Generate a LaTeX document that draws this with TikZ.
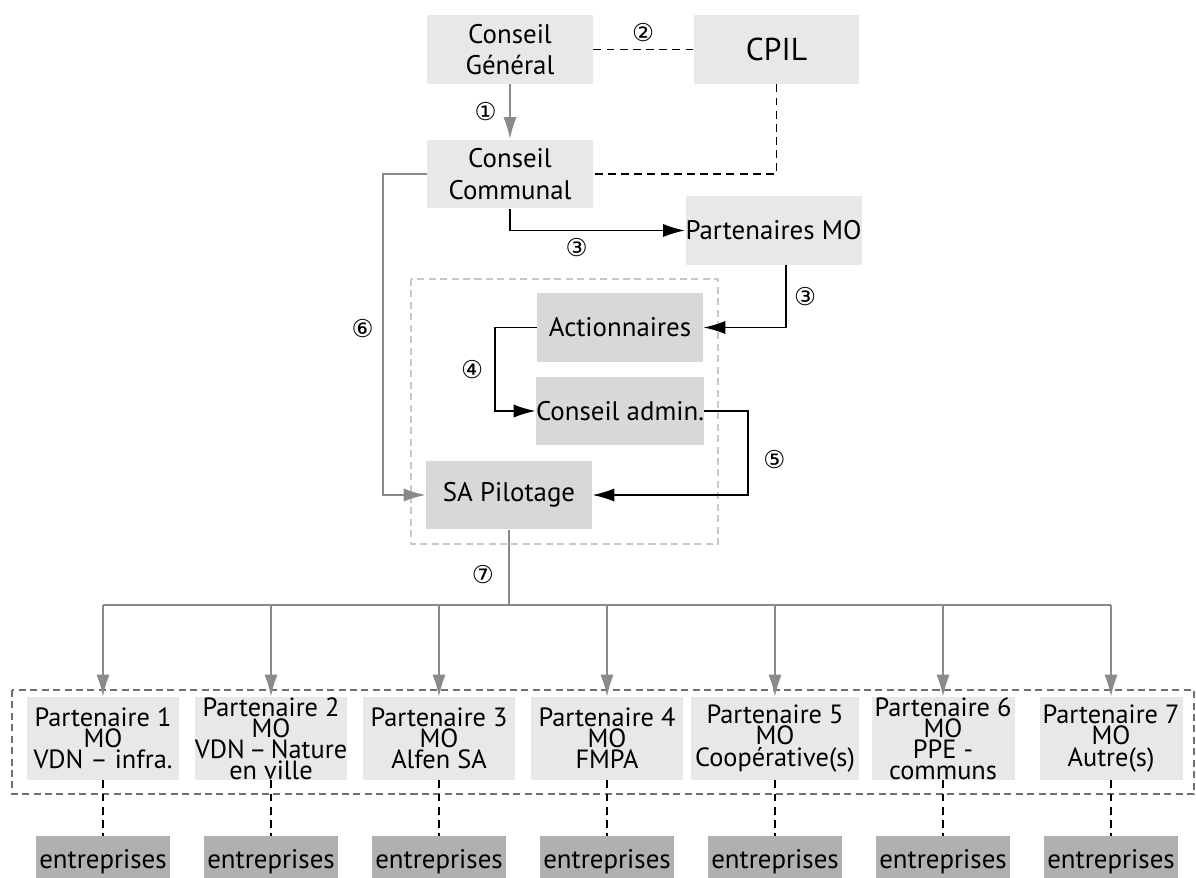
\documentclass[tikz,border=0pt]{standalone}
\usepackage{fontspec}
\setmainfont{PT Sans}
\newfontfamily\circfont{DejaVu Sans}
\usetikzlibrary{arrows.meta, positioning, calc}

\definecolor{boxlight}{HTML}{E8E8E8}
\definecolor{boxmid}{HTML}{D8D8D8}
\definecolor{boxdark}{HTML}{B0B0B0}
\definecolor{linegray}{HTML}{8A8A8A}
\definecolor{framelight}{HTML}{C8C8C8}
\definecolor{framedark}{HTML}{707070}

\begin{document}
\begin{tikzpicture}[x=0.02cm, y=-0.02cm, >=Latex, font=\fontsize{15.3}{18}\selectfont,
  body/.style={fill=boxlight, align=center, minimum width=3.32cm, minimum height=1.38cm, inner sep=0pt},
  core/.style={body, fill=boxmid},
  partner/.style={fill=boxlight, align=center, minimum width=3.06cm, minimum height=1.66cm, inner sep=0pt, font=\fontsize{15}{12}\selectfont},
  firm/.style={fill=boxdark, minimum width=2.68cm, minimum height=1.04cm, inner sep=0pt},
  num/.style={font=\circfont\fontsize{14}{14}\selectfont, inner sep=1pt},
  link/.style={line width=1.1pt, -{Latex[length=12.5pt,width=7.5pt]}},
  glink/.style={link, draw=linegray},
  gline/.style={line width=1.1pt, draw=linegray},
  tie/.style={line width=0.9pt, dash pattern=on 4.5pt off 3pt}]
\useasboundingbox (0,0) rectangle (1196,878);

% upper part
\node[body] (cg) at (510,49.5) {Conseil\\Général};
\node[body, font=\fontsize{18}{20}\selectfont] (cpil) at (776.5,49.5) {CPIL};
\node[body] (cc) at (510,174) {Conseil\\Communal};
\node[body, minimum width=3.46cm] (pmo) at (773.5,230.5) {Partenaires MO};
\node[core] (act) at (620,327.5) {Actionnaires};
\node[core] (adm) at (620,411) {Conseil admin.};
\node[core] (sa) at (509,495) {SA Pilotage};

% partners and firms
\node[partner] (p1) at (103,738.5) {Partenaire 1\\MO\\VDN -- infra.};
\node[partner] (p2) at (271,738.5) {Partenaire 2\\MO\\VDN\,--\,Nature\\en ville};
\node[partner] (p3) at (439,738.5) {Partenaire 3\\MO\\Alfen SA};
\node[partner] (p4) at (607,738.5) {Partenaire 4\\MO\\FMPA};
\node[partner, minimum width=3.36cm] (p5) at (775,738.5) {Partenaire 5\\MO\\Coopérative(s)};
\node[partner, minimum width=2.86cm] (p6) at (943,738.5) {Partenaire 6\\MO\\PPE -\\communs};
\node[partner, minimum width=2.86cm] (p7) at (1111,738.5) {Partenaire 7\\MO\\Autre(s)};
\foreach \i/\x in {1/103,2/271,3/439,4/607,5/775,6/943,7/1111}
  \node[firm] (f\i) at (\x,862) {entreprises};

% frames
\draw[framelight, line width=0.8pt, dash pattern=on 4pt off 2.5pt] (411,279) rectangle (718,544);
\draw[framedark, line width=0.8pt, dash pattern=on 4pt off 2.5pt] (12,690) rectangle (1194,794);

% connectors
\draw[glink] (cg) -- node[num, left=6pt]{①} (cc);
\draw[tie] (cg) -- node[num, above=3pt]{②} (cpil);
\draw[tie] (cpil) |- (cc);
\draw[link] (cc) |- node[num, pos=0.69, below=3pt]{③} (pmo);
\draw[link] ($(pmo.south)+(12.5,0)$) |- node[num, pos=0.25, right=3pt]{③} (act);
\draw[link] (act.west) -- ++(-42,0) |- node[num, pos=0.25, left=5pt]{④} (adm.west);
\draw[link] (adm.east) -- ++(44,0) |- node[num, pos=0.29, right=7pt]{⑤} (sa.east);
\draw[glink] (cc.west) -- ++(-44,0) |- node[num, pos=0.24, left=3.5pt]{⑥} (sa.west);
\coordinate (hub) at (509,605);
\draw[gline] (sa) -- node[num, pos=0.6, left=7pt]{⑦} (hub);
\draw[gline] (p1 |- hub) -- (p7 |- hub);
\foreach \i in {1,...,7} {
  \draw[glink] (p\i |- hub) -- (p\i.north);
  \draw[tie] (p\i) -- (f\i);
}
\end{tikzpicture}
\end{document}
